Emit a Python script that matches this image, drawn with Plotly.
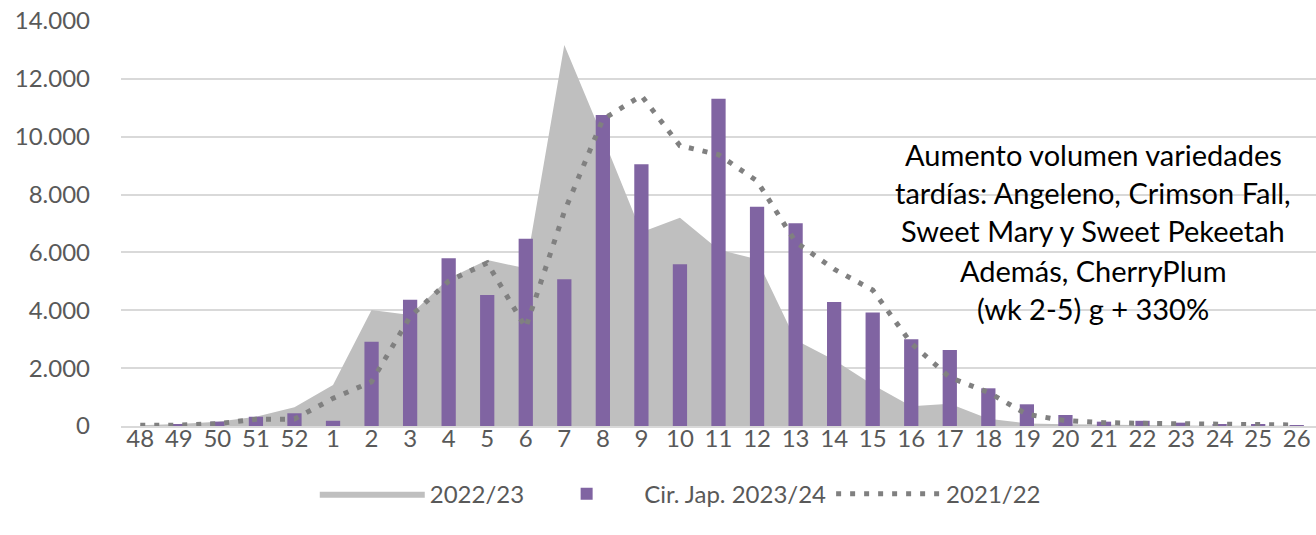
import plotly.graph_objects as go

weeks = ["48", "49", "50", "51", "52", "1", "2", "3", "4", "5", "6", "7", "8", "9", "10",
         "11", "12", "13", "14", "15", "16", "17", "18", "19", "20", "21", "22", "23",
         "24", "25", "26"]

vol_2022_23 = [25, 70, 150, 320, 645, 1420, 4010, 3840, 5100, 5740, 5450, 13170, 9980,
               6700, 7200, 6100, 5760, 2970, 2280, 1430, 680, 770, 250, 90, 60, 40, 30,
               20, 10, 10, 5]

vol_cir_jap_2023_24 = [0, 40, 150, 320, 440, 180, 2915, 4360, 5800, 4530, 6475, 5070,
                       10750, 9045, 5590, 11315, 7575, 7006, 4287, 3925, 3000, 2627, 1303,
                       750, 380, 150, 180, 115, 60, 40, 30]

vol_2021_22 = [24, 30, 80, 230, 240, 955, 1530, 3780, 5010, 5635, 3400, 7410, 10600,
               11420, 9690, 9380, 8470, 6360, 5420, 4700, 2860, 1680, 1165, 405, 185, 115,
               92, 80, 52, 40, 35]

y_ticks = [0, 2000, 4000, 6000, 8000, 10000, 12000, 14000]

note_lines = ["Aumento volumen variedades",
              "tardías: Angeleno, Crimson Fall,",
              "Sweet Mary y Sweet Pekeetah",
              "Además, CherryPlum",
              "(wk 2-5) g + 330%"]

FONT = "Lato"
TICK_COLOR = "#595959"

fig = go.Figure()

# area on primary y axis (drawn underneath)
fig.add_trace(go.Scatter(
    x=weeks, y=vol_2022_23, name="2022/23", mode="lines",
    line=dict(width=0, color="#BFBFBF"), fill="tozeroy", fillcolor="#BFBFBF",
    hoverinfo="skip", yaxis="y"))

# bars and dotted line on overlaying axis (drawn on top of the area)
fig.add_trace(go.Bar(
    x=weeks, y=vol_cir_jap_2023_24, name="Cir. Jap. 2023/24",
    marker=dict(color="#8064A2", line=dict(width=0)), width=0.37, yaxis="y2"))

fig.add_trace(go.Scatter(
    x=weeks, y=vol_2021_22, name="2021/22", mode="lines",
    line=dict(color="#808080", width=5, dash="5px,9px"), yaxis="y2"))

plot_top, plot_bottom, plot_left, plot_w = 21, 426, 121, 1195
line_y_px = [154, 192, 230, 270, 308]
for txt, ypx in zip(note_lines, line_y_px):
    fig.add_annotation(
        text=txt, xref="paper", yref="paper",
        x=(1093 - plot_left) / plot_w, y=(plot_bottom - ypx) / (plot_bottom - plot_top),
        xanchor="center", yanchor="middle", showarrow=False,
        font=dict(family=FONT, size=29, color="#000000"))

axis_common = dict(range=[0, 14000], tickvals=y_ticks, fixedrange=True, automargin=False)

fig.update_layout(
    width=1316, height=535,
    margin=dict(l=121, r=0, t=21, b=109, autoexpand=False),
    paper_bgcolor="white", plot_bgcolor="white",
    separators=",.",
    showlegend=True,
    legend=dict(orientation="h", x=0.468, y=-0.168, xanchor="center", yanchor="middle",
                font=dict(family=FONT, size=24, color=TICK_COLOR),
                itemwidth=105, traceorder="normal"),
    font=dict(family=FONT, size=24, color=TICK_COLOR),
    xaxis=dict(type="category", categoryorder="array", categoryarray=weeks,
               showgrid=False, showline=True, linecolor="#D9D9D9", linewidth=2,
               ticks="", ticklabelstandoff=-10, automargin=False,
               ticklabeloverflow="allow",
               tickfont=dict(family=FONT, size=24, color=TICK_COLOR),
               fixedrange=True),
    yaxis=dict(**axis_common, tickformat=",d",
               showgrid=True, gridcolor="#D9D9D9", gridwidth=1.5,
               zeroline=False, showline=False, ticks="",
               ticklabelstandoff=30, ticklabeloverflow="allow",
               tickfont=dict(family=FONT, size=24, color=TICK_COLOR)),
    yaxis2=dict(**axis_common, overlaying="y", side="left", showgrid=False,
                zeroline=False, showline=False, showticklabels=False, ticks=""),
)

fig.write_html("out.html", config={"displayModeBar": False},
               post_script="document.body.style.margin='0';")
